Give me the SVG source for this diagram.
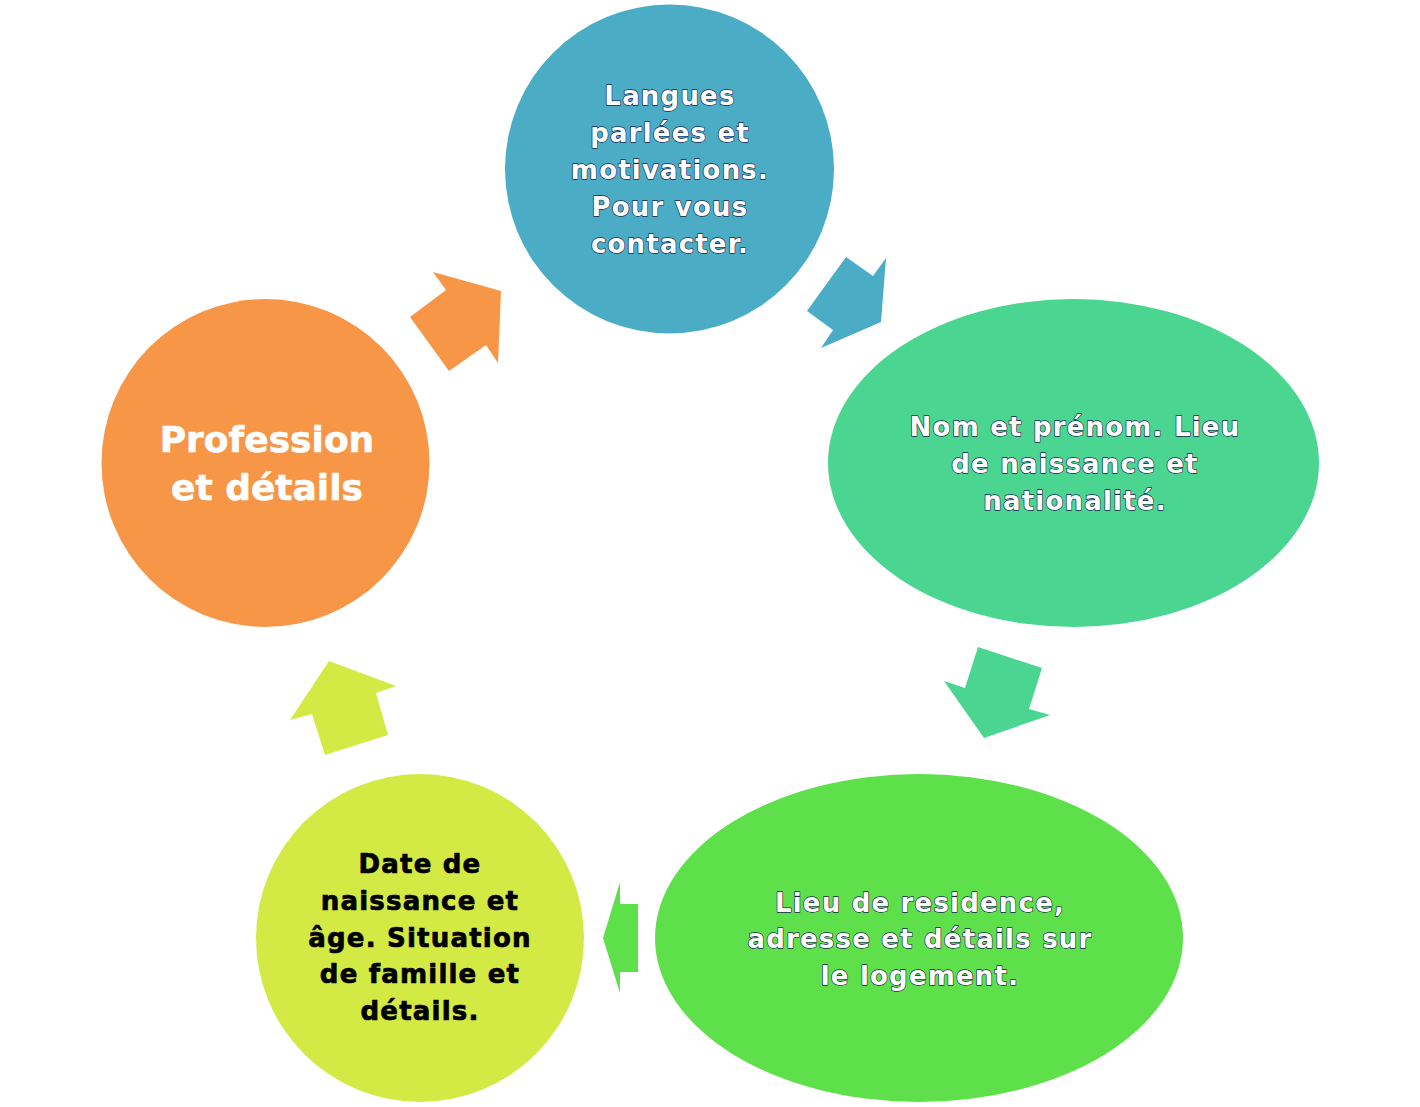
<svg xmlns="http://www.w3.org/2000/svg" width="1420" height="1107" viewBox="0 0 1420 1107">
<style>
  .t { font-family: "DejaVu Sans", "Liberation Sans", sans-serif; font-weight: bold; font-size: 26px; letter-spacing: 1.2px; text-anchor: middle; }
  .w { fill: #ffffff; stroke: #1a2350; stroke-width: 1.3px; paint-order: stroke fill; stroke-linejoin: round; }
  .k { fill: #000000; stroke: #000000; stroke-width: 0.7px; stroke-linejoin: round; }
  .big { font-family: "DejaVu Sans", "Liberation Sans", sans-serif; font-weight: bold; font-size: 36px; text-anchor: middle; fill: #ffffff; stroke: #ffffff; stroke-width: 0.6px; }
</style>
<rect width="1420" height="1107" fill="#ffffff"/>
<g id="connectors">
  <polygon id="arrow-blue" points="807,311 846,257 873,276 886,258 881,322 821,348 833,330" fill="#4BACC6"/>
  <polygon id="arrow-green" points="978,647 1042,668 1029,709 1050,715 984,738 944,681 965,688" fill="#4AD591"/>
  <polygon id="arrow-lime" points="620,882 620,904 638,904 638,972 620,972 620,993 603,938" fill="#5EE04A"/>
  <polygon id="arrow-yellow" points="329,661 396,686 376,693 388,735 325,755 312,714 290,720" fill="#D4EA44"/>
  <polygon id="arrow-orange" points="433,272 501,291 498,363 486,345 449,371 410,317 446,290" fill="#F79646"/>
</g>
<g id="node-langues">
  <circle cx="669.5" cy="169" r="164.5" fill="#4BACC6"/>
  <text class="t w" x="670" y="105">Langues</text>
  <text class="t w" x="670" y="142">parlées et</text>
  <text class="t w" x="670" y="179">motivations.</text>
  <text class="t w" x="670" y="216">Pour vous</text>
  <text class="t w" x="670" y="253">contacter.</text>
</g>
<g id="node-nom">
  <ellipse cx="1073.5" cy="463" rx="245.5" ry="164" fill="#4AD591"/>
  <text class="t w" x="1075" y="436">Nom et prénom. Lieu</text>
  <text class="t w" x="1075" y="473">de naissance et</text>
  <text class="t w" x="1075" y="510">nationalité.</text>
</g>
<g id="node-residence">
  <ellipse cx="919" cy="938" rx="264" ry="164" fill="#5EE04A"/>
  <text class="t w" x="920" y="912">Lieu de residence,</text>
  <text class="t w" x="920" y="948">adresse et détails sur</text>
  <text class="t w" x="920" y="985">le logement.</text>
</g>
<g id="node-date">
  <circle cx="420" cy="938" r="164" fill="#D4EA44"/>
  <text class="t k" x="420" y="873">Date de</text>
  <text class="t k" x="420" y="910">naissance et</text>
  <text class="t k" x="420" y="947">âge. Situation</text>
  <text class="t k" x="420" y="983">de famille et</text>
  <text class="t k" x="420" y="1020">détails.</text>
</g>
<g id="node-profession">
  <circle cx="265.5" cy="463" r="164" fill="#F79646"/>
  <text class="big" x="267" y="452">Profession</text>
  <text class="big" x="267" y="500">et détails</text>
</g>
</svg>
